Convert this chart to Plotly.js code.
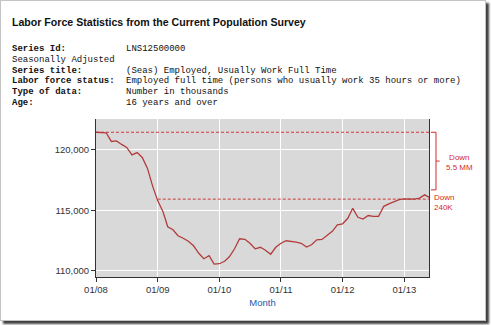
<!DOCTYPE html>
<html>
<head>
<meta charset="utf-8">
<script src="https://cdn.plot.ly/plotly-3.0.1.min.js"></script>
<style>
  html, body { margin:0; padding:0; background:#fff; width:491px; height:325px; overflow:hidden; }
  #frame { position:absolute; left:0; top:0; width:484px; height:319px; border:1px solid #c4c4c4; background:#fff;
           box-shadow: 3px 3px 2px rgba(0,0,0,0.75); }
  #chart { position:absolute; left:0; top:0; width:491px; height:325px; }
  #head { position:absolute; left:12px; top:16px; font-family:Arial, "Liberation Sans", sans-serif; font-weight:bold; font-size:10.6px; color:#111; white-space:nowrap; }
  #meta { position:absolute; left:12px; top:44px; font-family:"Liberation Mono", monospace; font-size:9px; line-height:10.8px; color:#111; }
  #meta .row { height:10.8px; white-space:nowrap; }
  #meta .lab { display:inline-block; width:114px; font-weight:bold; }
  #meta .val { display:inline-block; }
</style>
</head>
<body>
<div id="frame"></div>
<div id="chart"></div>
<div id="head">Labor Force Statistics from the Current Population Survey</div>
<div id="meta"></div>
<script>
// Header metadata rows: [label, value]
const metaLabels = ['Series Id:', '', 'Series title:', 'Labor force status:', 'Type of data:', 'Age:'];
const metaValues = ['LNS12500000', '', '(Seas) Employed, Usually Work Full Time',
  'Employed full time (persons who usually work 35 hours or more)', 'Number in thousands', '16 years and over'];
const seasonalNote = 'Seasonally Adjusted';

// Months (Jan 2008 - Jun 2013)
const months = [
 '2008-01-01','2008-02-01','2008-03-01','2008-04-01','2008-05-01','2008-06-01','2008-07-01','2008-08-01','2008-09-01','2008-10-01','2008-11-01','2008-12-01',
 '2009-01-01','2009-02-01','2009-03-01','2009-04-01','2009-05-01','2009-06-01','2009-07-01','2009-08-01','2009-09-01','2009-10-01','2009-11-01','2009-12-01',
 '2010-01-01','2010-02-01','2010-03-01','2010-04-01','2010-05-01','2010-06-01','2010-07-01','2010-08-01','2010-09-01','2010-10-01','2010-11-01','2010-12-01',
 '2011-01-01','2011-02-01','2011-03-01','2011-04-01','2011-05-01','2011-06-01','2011-07-01','2011-08-01','2011-09-01','2011-10-01','2011-11-01','2011-12-01',
 '2012-01-01','2012-02-01','2012-03-01','2012-04-01','2012-05-01','2012-06-01','2012-07-01','2012-08-01','2012-09-01','2012-10-01','2012-11-01','2012-12-01',
 '2013-01-01','2013-02-01','2013-03-01','2013-04-01','2013-05-01','2013-06-01'
];
// Employed, usually work full time (thousands)
const employed = [
 121463,121463,121421,120702,120744,120455,120207,119587,119777,119380,118471,117025,
 115785,114876,113636,113388,112893,112686,112438,112066,111446,110992,111240,110554,
 110579,110785,111157,111818,112645,112603,112273,111818,111942,111694,111364,111942,
 112273,112479,112438,112372,112273,111959,112149,112562,112587,112934,113264,113802,
 113884,114339,115165,114422,114273,114571,114504,114504,115331,115537,115744,115885,
 115950,115909,115926,116008,116281,116033
];
// Reference levels (dashed lines)
const refLevels = [121463, 115926];
const refStarts = ['2008-01-01', '2009-01-01'];
const refEnd = '2013-06-01';
const yTicks = [110000, 115000, 120000];
const xAxisTitle = 'Month';
const noteTop = 'Down<br>5.5 MM';
const noteBottom = 'Down<br>240K';

// build header rows
const meta = document.getElementById('meta');
metaLabels.forEach((lab, i) => {
  const row = document.createElement('div');
  row.className = 'row';
  if (i === 1) {
    row.textContent = seasonalNote;
  } else {
    const a = document.createElement('span'); a.className = 'lab'; a.textContent = lab;
    const b = document.createElement('span'); b.className = 'val'; b.textContent = metaValues[i];
    row.appendChild(a); row.appendChild(b);
  }
  meta.appendChild(row);
});

const red = '#d42a2a';
const traces = refLevels.map((lv, i) => ({
  x: [refStarts[i], refEnd], y: [lv, lv], mode: 'lines', type: 'scatter',
  line: { color: '#cc3a3a', width: 1, dash: '3px,2px' }, hoverinfo: 'skip', showlegend: false
}));
traces.push({
  x: months, y: employed, mode: 'lines', type: 'scatter',
  line: { color: '#b23c3c', width: 1.3 }, showlegend: false
});

// brace geometry (paper x, data y)
const bTop = refLevels[0], bBot = 116694, bMid = (bTop + bBot) / 2;
const layout = {
  width: 491, height: 325,
  margin: { l: 96, r: 62, t: 119, b: 48, pad: 0 },
  paper_bgcolor: 'rgba(0,0,0,0)',
  plot_bgcolor: '#d9d9d9',
  font: { family: 'Arial, "Liberation Sans", sans-serif', size: 9.5, color: '#333' },
  xaxis: {
    type: 'date', range: ['2008-01-01', '2013-05-27'],
    tick0: '2008-01-01', dtick: 'M12', tickformat: '%m/%y',
    showgrid: true, gridcolor: '#ffffff', gridwidth: 1,
    showline: true, linecolor: '#333', linewidth: 1, mirror: false,
    ticks: 'outside', ticklen: 4, tickcolor: '#333', zeroline: false,
    tickfont: { size: 9.5, color: '#333' },
    title: { text: xAxisTitle, font: { size: 9.5, color: '#2a56a8' }, standoff: 4 },
    automargin: false, fixedrange: true
  },
  yaxis: {
    range: [109480, 122560], tickvals: yTicks, tickformat: ',d',
    showgrid: true, gridcolor: '#ffffff', gridwidth: 1,
    showline: true, linecolor: '#333', linewidth: 1, mirror: true,
    ticks: 'outside', ticklen: 4, tickcolor: '#333', zeroline: false,
    tickfont: { size: 9.5, color: '#333' },
    automargin: false, fixedrange: true
  },
  shapes: [{
    type: 'path', xref: 'paper', yref: 'y',
    path: `M 1.006,${bTop} L 1.021,${bTop} L 1.021,${bBot} L 1.006,${bBot} M 1.021,${bMid} L 1.032,${bMid}`,
    line: { color: red, width: 1 }
  }],
  annotations: [
    { xref: 'paper', yref: 'y', x: 1.092, y: 119000, text: noteTop, showarrow: false,
      xanchor: 'center', yanchor: 'middle', align: 'center', font: { size: 8, color: red } },
    { xref: 'paper', yref: 'y', x: 1.009, y: 115650, text: noteBottom, showarrow: false,
      xanchor: 'left', yanchor: 'middle', align: 'left', font: { size: 8, color: red } }
  ],
  showlegend: false
};
Plotly.newPlot('chart', traces, layout, { staticPlot: true, displayModeBar: false });
</script>
</body>
</html>
